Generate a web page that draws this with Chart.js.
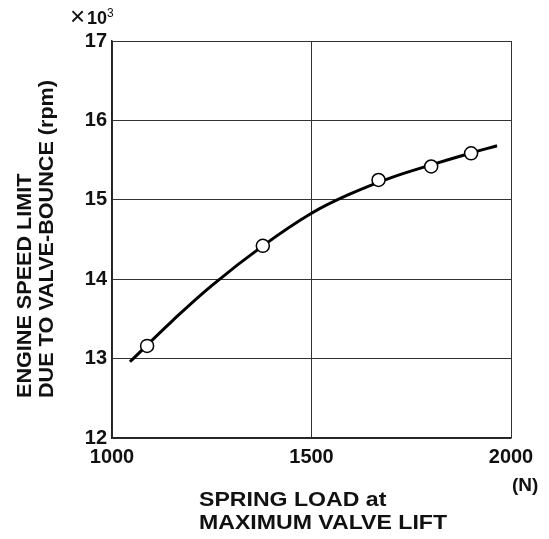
<!DOCTYPE html>
<html>
<head>
<meta charset="utf-8">
<script src="https://cdn.jsdelivr.net/npm/chart.js@4"></script>
<style>
    html, body { margin: 0; padding: 0; background: #fff; }
    #wrap { width: 549px; height: 539px; position: relative; }
</style>
</head>
<body>
<div id="wrap"><canvas id="chart" width="549" height="539"></canvas></div>
<script>
// measured points (spring load N, engine speed x10^3 rpm)
const pointLoad  = [1088, 1378, 1668, 1800, 1900]
const pointSpeed = [13.16, 14.42, 15.25, 15.42, 15.585]

// fitted curve
const curveLoad  = [1045, 1150, 1250, 1378, 1500, 1600, 1700, 1800, 1900, 1965]
const curveSpeed = [12.96, 13.47, 13.92, 14.42, 14.83, 15.08, 15.28, 15.44, 15.59, 15.68]

const xTicks = [1000, 1500, 2000]
const yTicks = [12, 13, 14, 15, 16, 17]

const FONT = '"Liberation Sans", Arial, sans-serif'

// draw text a little wider than the font, like the scanned lettering
function wideText(ctx, text, x, y, stretch) {
    ctx.save()
    ctx.translate(x, y)
    ctx.scale(stretch, 1)
    ctx.fillText(text, 0, 0)
    ctx.restore()
}

const textPlugin = {
    id: 'texts',
    afterDraw(chart) {
        const ctx = chart.ctx
        ctx.save()
        ctx.fillStyle = '#111'
        ctx.font = 'bold 20px ' + FONT
        ctx.textBaseline = 'middle'
        ctx.textAlign = 'left'

        // y title, two rotated lines
        ctx.save()
        ctx.translate(25, 398)
        ctx.rotate(-Math.PI / 2)
        wideText(ctx, 'ENGINE SPEED LIMIT', 0, 0, 1.08)
        ctx.restore()
        ctx.save()
        ctx.translate(47, 398)
        ctx.rotate(-Math.PI / 2)
        wideText(ctx, 'DUE TO VALVE-BOUNCE (rpm)', 0, 0, 1.08)
        ctx.restore()

        // x title
        ctx.font = 'bold 21px ' + FONT
        wideText(ctx, 'SPRING LOAD at', 199, 500, 1.1)
        wideText(ctx, 'MAXIMUM VALVE LIFT', 199, 523, 1.1)
        ctx.font = 'bold 19px ' + FONT
        ctx.fillText('(N)', 512, 486)

        // multiplier
        ctx.font = '26px ' + FONT
        ctx.fillText('\u00d7', 70, 18)
        ctx.font = 'bold 18px ' + FONT
        ctx.fillText('10', 87, 19)
        ctx.font = '12px ' + FONT
        ctx.fillText('3', 107, 14)
        ctx.restore()
    }
}

const tickFont = { family: FONT, size: 20, weight: 'bold' }

new Chart(document.getElementById('chart'), {
    type: 'scatter',
    data: {
        datasets: [{
            data: pointLoad.map((x, i) => ({ x: x, y: pointSpeed[i] })),
            backgroundColor: '#fff',
            borderColor: '#000',
            borderWidth: 1.5,
            pointRadius: 6.5,
            order: 0
        }, {
            type: 'line',
            data: curveLoad.map((x, i) => ({ x: x, y: curveSpeed[i] })),
            borderColor: '#000',
            borderWidth: 3,
            pointRadius: 0,
            tension: 0.4,
            fill: false,
            order: 1
        }]
    },
    options: {
        responsive: false,
        animation: false,
        layout: { padding: { left: 0, right: 38, top: 41, bottom: 67 } },
        plugins: { legend: { display: false }, tooltip: { enabled: false } },
        scales: {
            x: {
                type: 'linear',
                min: 1000, max: 2000,
                afterFit(scale) { scale.height = 34 },
                afterBuildTicks(scale) { scale.ticks = xTicks.map(v => ({ value: v })) },
                grid: { color: '#333', lineWidth: 1, drawTicks: false },
                border: { color: '#222', width: 1.5 },
                ticks: { padding: 7, color: '#111', font: tickFont, callback: v => String(v) }
            },
            y: {
                min: 12, max: 17,
                afterFit(scale) { scale.width = 112 },
                afterBuildTicks(scale) { scale.ticks = yTicks.map(v => ({ value: v })) },
                grid: { color: '#333', lineWidth: 1, drawTicks: false },
                border: { color: '#222', width: 1.5 },
                ticks: { padding: 5, color: '#111', font: tickFont, callback: v => String(v) }
            }
        }
    },
    plugins: [textPlugin]
})
</script>
</body>
</html>
